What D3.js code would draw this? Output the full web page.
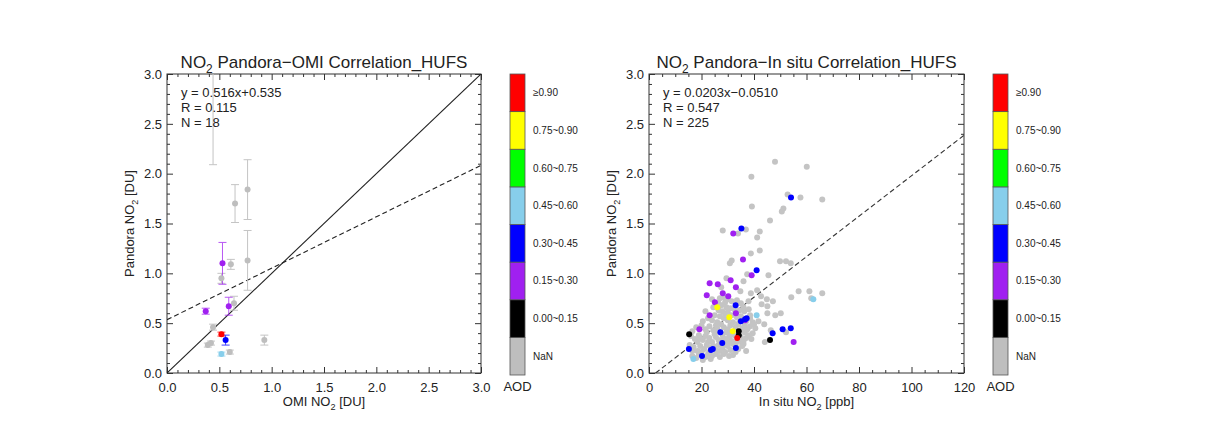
<!DOCTYPE html>
<html><head><meta charset="utf-8">
<script src="https://cdn.jsdelivr.net/npm/d3@7"></script>
<style>body{margin:0;background:#fff}svg{display:block}text{font-family:"Liberation Sans",Arial,sans-serif;fill:#222}</style>
</head><body><svg id="c" width="1216" height="430"></svg>
<script>
// ---------- DATA ----------
const aodClasses = ["NaN","0.00~0.15","0.15~0.30","0.30~0.45","0.45~0.60","0.60~0.75","0.75~0.90","≥0.90"];
const aodColors  = ["#bebebe","#000000","#a020f0","#0000ff","#87ceeb","#00ff00","#ffff00","#ff0000"];

// Left panel: [OMI NO2, Pandora NO2, error, AOD class index]
const omiPoints = [
  [0.44,3.30,1.21,0],[0.65,1.70,0.19,0],[0.77,1.84,0.30,0],[0.77,1.13,0.30,0],
  [0.52,0.95,0.05,0],[0.61,1.09,0.05,0],[0.64,0.70,0.07,0],[0.44,0.46,0.03,0],
  [0.39,0.28,0.02,0],[0.42,0.30,0.02,0],[0.60,0.21,0.02,0],[0.93,0.33,0.05,0],
  [0.53,1.10,0.21,2],[0.37,0.62,0.03,2],[0.59,0.67,0.09,2],
  [0.52,0.39,0.02,7],[0.56,0.33,0.05,3],[0.52,0.19,0.02,4]
];
const omiFit = [0.516, 0.535];
const omiStats = ["y = 0.516x+0.535","R = 0.115","N = 18"];

// Right panel: [In situ NO2, Pandora NO2] by AOD class
const insituNaN = [
 [48.0,2.12],[60.1,2.07],[39.0,1.97],[39.2,1.67],[66.0,1.74],[57.7,1.76],[52.8,1.79],[51.2,1.65],[50.6,1.62],[46.1,1.53],
 [36.9,1.44],[28.1,1.43],[33.9,1.40],[42.2,1.42],[41.2,1.36],[42.2,1.23],[38.8,1.20],[31.5,1.13],[30.8,1.10],[49.9,1.12],
 [52.2,1.12],[54.0,1.10],[37.4,0.99],[45.5,0.98],[41.2,0.83],[38.8,0.80],[57.0,0.82],[61.1,0.82],[66.0,0.80],[54.2,0.76],
 [61.8,0.75],[42.7,0.77],[44.9,0.74],[47.2,0.72],[42.9,0.69],[45.1,0.67],[45.1,0.60],[48.1,0.58],[50.2,0.60],[41.7,0.52],
 [43.9,0.49],[44.1,0.31],[52.2,0.41],[46.4,0.43],[37.9,0.72],[36.3,0.62],[38.5,0.55],[40.5,0.45],[39.5,0.40],[37.0,0.35],
 [35.5,0.30],[29.5,0.95],[27.5,0.86],[34.8,0.82],[36.0,0.92],
 [28.5,0.76],[30.0,0.74],[31.5,0.72],[29.0,0.71],[33.5,0.73],[27.0,0.75],[35.0,0.70],[26.5,0.70],[24.0,0.74],
 [27.5,0.68],[29.5,0.66],[31.0,0.65],[32.5,0.64],[28.0,0.62],[30.0,0.61],[34.5,0.63],[24.5,0.66],[26.5,0.63],[21.5,0.62],[36.0,0.66],[38.0,0.64],
 [25.0,0.58],[27.0,0.57],[28.5,0.55],[30.0,0.53],[31.5,0.58],[33.5,0.56],[35.0,0.57],[37.0,0.52],[38.5,0.58],[24.0,0.53],[22.5,0.55],[26.0,0.51],[32.0,0.51],[34.5,0.52],[39.5,0.51],[20.5,0.52],[29.0,0.59],
 [18.0,0.46],[20.0,0.48],[21.5,0.44],[23.0,0.47],[24.5,0.43],[25.5,0.48],[28.5,0.46],[30.0,0.44],[31.0,0.48],[33.0,0.46],[35.5,0.45],[36.5,0.41],[38.5,0.47],[22.0,0.41],[26.5,0.42],[29.5,0.41],[16.5,0.42],[34.0,0.49],[40.0,0.49],[27.5,0.49],
 [16.0,0.37],[17.5,0.34],[19.0,0.38],[20.5,0.33],[21.5,0.37],[23.0,0.35],[24.0,0.31],[25.5,0.36],[26.5,0.33],[28.0,0.38],[29.0,0.34],[30.5,0.36],[31.5,0.32],[32.5,0.38],[35.0,0.36],[36.0,0.32],[38.0,0.38],[39.0,0.34],[22.5,0.31],[27.0,0.30],[30.0,0.31],[33.5,0.31],[18.5,0.31],[25.0,0.39],[34.5,0.34],
 [15.5,0.28],[17.0,0.26],[18.5,0.22],[19.5,0.27],[21.0,0.24],[22.0,0.28],[23.0,0.21],[24.5,0.27],[25.5,0.23],[26.5,0.28],[28.0,0.25],[29.0,0.21],[30.0,0.27],[31.0,0.23],[32.0,0.29],[34.0,0.24],[35.5,0.27],[37.0,0.22],[20.0,0.21],[27.0,0.22],[33.0,0.21],[16.5,0.22],[29.5,0.29],[36.0,0.29],
 [16.5,0.17],[18.0,0.15],[19.0,0.19],[21.5,0.16],[22.5,0.19],[24.0,0.17],[25.5,0.19],[27.0,0.16],[28.5,0.19],[30.5,0.17],[32.0,0.18],[20.5,0.13],[23.5,0.14],
 [26.0,0.45],[31.0,0.40],[37.5,0.44],[19.5,0.35],[23.5,0.25],[28.0,0.33],[33.0,0.27],[36.5,0.48]
];
const insituAod000 = [[15.3,0.39],[34.2,0.42],[34.2,0.38],[46.1,0.33]];
const insituAod015 = [[23.1,0.90],[26.2,0.89],[31.1,0.93],[33.1,0.86],[28.1,0.80],[30.2,0.77],[22.0,0.78],[25.1,0.71],
 [23.1,0.58],[19.2,0.44],[32.1,1.40],[35.8,1.14],[39.1,0.98],[55.1,0.31],[33.1,0.60],[36.6,0.53]];
const insituAod030 = [[35.2,1.45],[54.1,1.76],[41.0,1.03],[33.0,0.68],[36.6,0.54],[37.2,0.55],[27.2,0.41],[47.1,0.40],[50.9,0.44],
 [54.0,0.45],[15.2,0.24],[20.2,0.17],[23.6,0.23],[24.3,0.24],[27.9,0.30],[33.1,0.25],[35.0,0.52]];
const insituAod045 = [[16.9,0.14],[41.0,0.58],[62.6,0.74]];
const insituAod075 = [[26.0,0.66],[30.6,0.56],[31.9,0.42]];
const insituAod090 = [[33.6,0.35]];
const insituFit = [0.0203, -0.0510];
const insituStats = ["y = 0.0203x\u22120.0510","R = 0.547","N = 225"];

const xTicksOmi = [0,0.5,1,1.5,2,2.5,3];
const xTicksInsitu = [0,20,40,60,80,100,120];
const yTicks = [0,0.5,1,1.5,2,2.5,3];

// ---------- DRAW ----------
const svg = d3.select("#c");
const top0 = 74, bot0 = 373;

function subText(sel, parts, size){
  parts.forEach(([t,s])=>{
    const ts = sel.append("tspan").text(t);
    if(s){ ts.attr("font-size", size*0.7).attr("dy", size*0.28); }
    else if(sel.selectAll("tspan").size()>1){ ts.attr("dy", -size*0.28); }
  });
}

function panel(o){
  const x = d3.scaleLinear().domain(o.xDom).range([o.x0, o.x1]);
  const y = d3.scaleLinear().domain([0,3]).range([bot0, top0]);
  const g = svg.append("g");
  const cid = "clip"+o.id;
  svg.append("clipPath").attr("id",cid).append("rect")
    .attr("x",o.x0).attr("y",top0).attr("width",o.x1-o.x0).attr("height",bot0-top0);
  const fmtX = o.fmtX, fmtY = d3.format(".1f");
  const axes = [
    [d3.axisBottom(x).tickValues(o.xTicks).tickFormat(fmtX).tickPadding(10), `translate(0,${bot0})`],
    [d3.axisTop(x).tickValues(o.xTicks).tickFormat(""), `translate(0,${top0})`],
    [d3.axisLeft(y).tickValues(yTicks).tickFormat(fmtY).tickPadding(5), `translate(${o.x0},0)`],
    [d3.axisRight(y).tickValues(yTicks).tickFormat(""), `translate(${o.x1},0)`],
  ];
  axes.forEach(([ax,tr])=>{
    const a = g.append("g").attr("transform",tr).call(ax.tickSizeInner(-6).tickSizeOuter(0));
    a.select(".domain").remove();
    a.selectAll("line").attr("stroke","#333");
    a.selectAll("text").attr("font-size",13).attr("fill","#222").style("font-family","Liberation Sans, Arial, sans-serif");
  });
  const minorX = d3.range(o.xDom[0], o.xDom[1]+1e-9, o.xMinor).filter(v=>!o.xTicks.some(t=>Math.abs(t-v)<1e-6));
  const minorY = d3.range(0, 3+1e-9, 0.1).filter(v=>!yTicks.some(t=>Math.abs(t-v)<1e-6));
  [[d3.axisBottom(x).tickValues(minorX),`translate(0,${bot0})`],[d3.axisTop(x).tickValues(minorX),`translate(0,${top0})`],
   [d3.axisLeft(y).tickValues(minorY),`translate(${o.x0},0)`],[d3.axisRight(y).tickValues(minorY),`translate(${o.x1},0)`]]
  .forEach(([ax,tr])=>{
    const a = g.append("g").attr("transform",tr).call(ax.tickFormat("").tickSizeInner(-3).tickSizeOuter(0));
    a.select(".domain").remove();
    a.selectAll("line").attr("stroke","#333");
  });
  g.append("rect").attr("x",o.x0).attr("y",top0).attr("width",o.x1-o.x0).attr("height",bot0-top0)
    .attr("fill","none").attr("stroke","#333").attr("stroke-width",1);

  const plot = g.append("g").attr("clip-path",`url(#${cid})`);
  o.draw(plot, x, y);

  const t = g.append("text").attr("x",(o.x0+o.x1)/2).attr("y",68).attr("text-anchor","middle").attr("font-size",17);
  subText(t, o.title, 17);
  const xl = g.append("text").attr("x",(o.x0+o.x1)/2).attr("y",406).attr("text-anchor","middle").attr("font-size",13);
  subText(xl, o.xLabel, 13);
  const yl = g.append("text").attr("transform",`translate(${o.x0-33},${(top0+bot0)/2}) rotate(-90)`).attr("text-anchor","middle").attr("font-size",13);
  subText(yl, [["Pandora NO",false],["2",true],[" [DU]",false]], 13);
  o.stats.forEach((s,i)=>{
    g.append("text").attr("x",o.x0+14).attr("y",97+i*15).attr("font-size",13).text(s);
  });
  const cb = d3.scaleBand().domain(d3.range(aodClasses.length).reverse()).range([top0, bot0+2]);
  const cg = g.append("g");
  cg.selectAll("rect").data(d3.range(aodClasses.length)).join("rect")
    .attr("x",o.cbx).attr("y",d=>cb(d)).attr("width",15).attr("height",cb.bandwidth())
    .attr("fill",d=>aodColors[d]).attr("stroke","#555").attr("stroke-width",0.8);
  cg.selectAll("text").data(d3.range(aodClasses.length)).join("text")
    .attr("x",o.cbx+23).attr("y",d=>cb(d)+cb.bandwidth()/2+3.5).attr("font-size",10).text(d=>aodClasses[d]);
  g.append("text").attr("x",o.cbx+7.5).attr("y",391).attr("text-anchor","middle").attr("font-size",13).text("AOD");
}

panel({
  id:"L", x0:167, x1:481, xDom:[0,3], xTicks:xTicksOmi, xMinor:0.1, fmtX:d3.format(".1f"), cbx:510,
  title:[["NO",false],["2",true],[" Pandora\u2212OMI Correlation_HUFS",false]],
  xLabel:[["OMI NO",false],["2",true],[" [DU]",false]],
  stats: omiStats,
  draw:(p,x,y)=>{
    p.append("line").attr("x1",x(0)).attr("y1",y(0)).attr("x2",x(3)).attr("y2",y(3)).attr("stroke","#222").attr("stroke-width",1.1);
    p.append("line").attr("x1",x(0)).attr("y1",y(omiFit[1])).attr("x2",x(3)).attr("y2",y(omiFit[0]*3+omiFit[1]))
      .attr("stroke","#222").attr("stroke-width",1.1).attr("stroke-dasharray","5,3");
    omiPoints.forEach(([a,b,e,c])=>{
      const col = c===0 ? "#c4c4c4" : aodColors[c];
      const eg = p.append("g").attr("stroke",col).attr("stroke-width",1).attr("opacity",c===0?1:0.75);
      eg.append("line").attr("x1",x(a)).attr("x2",x(a)).attr("y1",y(b-e)).attr("y2",y(b+e));
      eg.append("line").attr("x1",x(a)-4).attr("x2",x(a)+4).attr("y1",y(b-e)).attr("y2",y(b-e));
      eg.append("line").attr("x1",x(a)-4).attr("x2",x(a)+4).attr("y1",y(b+e)).attr("y2",y(b+e));
    });
    p.selectAll("circle").data(omiPoints).join("circle")
      .attr("cx",d=>x(d[0])).attr("cy",d=>y(d[1])).attr("r",3).attr("fill",d=>aodColors[d[3]]);
  }
});

panel({
  id:"R", x0:649, x1:964, xDom:[0,120], xTicks:xTicksInsitu, xMinor:5, fmtX:d3.format("d"), cbx:993,
  title:[["NO",false],["2",true],[" Pandora\u2212In situ Correlation_HUFS",false]],
  xLabel:[["In situ NO",false],["2",true],[" [ppb]",false]],
  stats: insituStats,
  draw:(p,x,y)=>{
    const x0 = -insituFit[1]/insituFit[0];
    p.append("line").attr("x1",x(x0)).attr("y1",y(0)).attr("x2",x(120)).attr("y2",y(insituFit[0]*120+insituFit[1]))
      .attr("stroke","#333").attr("stroke-width",1.1).attr("stroke-dasharray","5,3");
    const sets = [[insituNaN,0],[insituAod000,1],[insituAod015,2],[insituAod030,3],[insituAod045,4],[insituAod075,6],[insituAod090,7]];
    sets.forEach(([arr,c])=>{
      p.append("g").selectAll("circle").data(arr).join("circle")
        .attr("cx",d=>x(d[0])).attr("cy",d=>y(d[1])).attr("r",3).attr("fill",c===0?"#c4c4c4":aodColors[c]);
    });
  }
});
</script></body></html>
